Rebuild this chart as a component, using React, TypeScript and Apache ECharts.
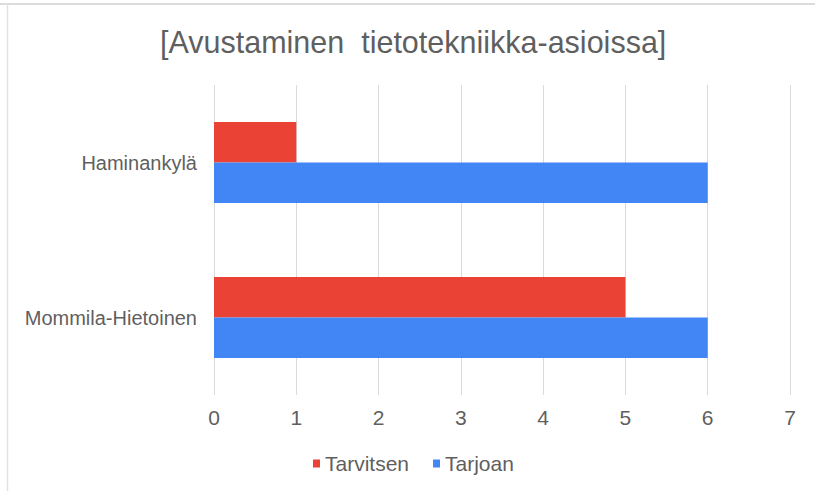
import React, { useEffect, useRef } from "react";
import * as echarts from "echarts";

const titleText = "[Avustaminen  tietotekniikka-asioissa]";
const categories = ["Haminankylä", "Mommila-Hietoinen"];
const seriesNames = ["Tarvitsen", "Tarjoan"];
const tarvitsenValues = [1, 5];
const tarjoanValues = [6, 6];
const seriesColors = ["#EA4335", "#4285F4"];
const axisMax = 7;
const axisInterval = 1;

export default function App() {
  const ref = useRef<HTMLDivElement>(null);

  useEffect(() => {
    document.body.style.margin = "0";
    const chart = echarts.init(ref.current!, null, { renderer: "svg" });
    const font = "'Liberation Sans', Arial, sans-serif";
    chart.setOption({
      animation: false,
      backgroundColor: "#ffffff",
      textStyle: { fontFamily: font },
      title: {
        text: titleText,
        left: 155,
        top: 21,
        textStyle: {
          fontFamily: font,
          fontSize: 30.5,
          fontWeight: "normal",
          color: "#5f5f5f",
        },
      },
      legend: {
        data: seriesNames,
        left: 308,
        top: 448,
        icon: "rect",
        itemWidth: 7,
        itemHeight: 8,
        itemGap: 24,
        textStyle: { fontFamily: font, fontSize: 21, color: "#5f5f5f" },
      },
      grid: { left: 214, right: 25, top: 85, bottom: 96, containLabel: false },
      xAxis: {
        type: "value",
        min: 0,
        max: axisMax,
        interval: axisInterval,
        axisLine: { show: false },
        axisTick: { show: false },
        axisLabel: { fontFamily: font, fontSize: 21, color: "#5f5f5f", margin: 12 },
        splitLine: { show: true, lineStyle: { color: "#d9d9d9", width: 1 } },
      },
      yAxis: {
        type: "category",
        data: categories,
        inverse: true,
        axisLine: { show: false },
        axisTick: { show: false },
        axisLabel: { fontFamily: font, fontSize: 20, color: "#5f5f5f", margin: 17 },
        splitLine: { show: false },
      },
      graphic: [
        {
          type: "line",
          shape: { x1: 0, y1: 4, x2: 815, y2: 4 },
          style: { stroke: "#dcdcdc", lineWidth: 2 },
          silent: true,
        },
        {
          type: "line",
          shape: { x1: 7.5, y1: 4, x2: 7.5, y2: 491 },
          style: { stroke: "#e2e2e2", lineWidth: 1.5 },
          silent: true,
        },
      ],
      series: [
        {
          name: seriesNames[0],
          type: "bar",
          data: tarvitsenValues,
          itemStyle: { color: seriesColors[0] },
          barGap: "0%",
          barCategoryGap: "47.7%",
        },
        {
          name: seriesNames[1],
          type: "bar",
          data: tarjoanValues,
          itemStyle: { color: seriesColors[1] },
          barGap: "0%",
          barCategoryGap: "47.7%",
        },
      ],
    });
    return () => chart.dispose();
  }, []);

  return (
    <div
      ref={ref}
      style={{ position: "absolute", left: 0, top: 0, width: 815, height: 491 }}
    />
  );
}
